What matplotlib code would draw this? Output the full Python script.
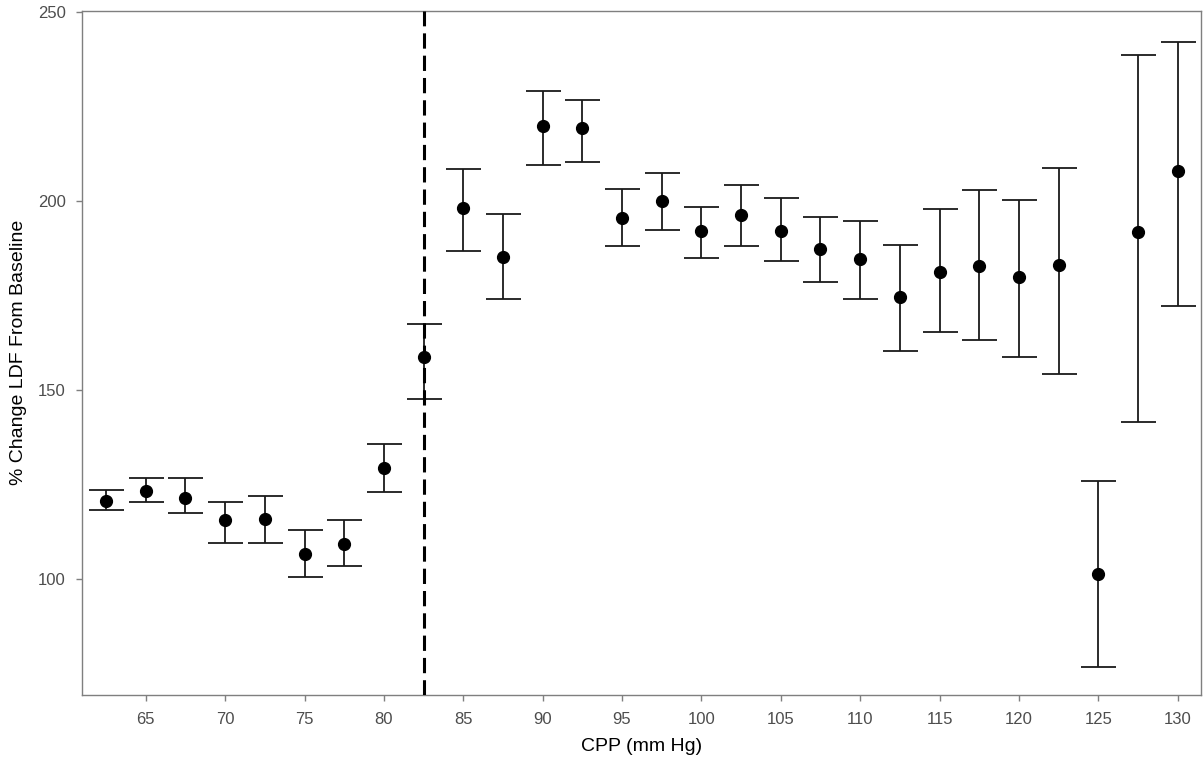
import matplotlib
matplotlib.use("Agg")
import matplotlib.pyplot as plt

cpp = [62.5, 65, 67.5, 70, 72.5, 75, 77.5, 80, 82.5, 85, 87.5, 90, 92.5, 95, 97.5,
       100, 102.5, 105, 107.5, 110, 112.5, 115, 117.5, 120, 122.5, 125, 127.5, 130]
mean = [120.8, 123.5, 121.6, 115.7, 116.0, 106.7, 109.3, 129.4, 158.7, 198.2, 185.4,
        219.9, 219.4, 195.6, 200.1, 192.2, 196.3, 192.2, 187.4, 184.7, 174.7, 181.3,
        182.9, 179.9, 183.2, 101.5, 191.9, 208.1]
upper = [123.6, 126.9, 126.9, 120.5, 122.0, 113.1, 115.7, 135.8, 167.5, 208.6, 196.7,
         229.2, 226.9, 203.4, 207.5, 198.5, 204.4, 200.8, 195.9, 194.8, 188.4, 198.1,
         203.0, 200.3, 208.9, 126.0, 238.8, 242.1]
lower = [118.3, 120.5, 117.5, 109.7, 109.7, 100.7, 103.4, 123.1, 147.8, 187.0, 174.2,
         209.5, 210.5, 188.1, 192.5, 185.1, 188.1, 184.3, 178.7, 174.2, 160.4, 165.4,
         163.4, 158.9, 154.4, 76.7, 141.7, 172.4]
threshold = 82.55
xticks = list(range(65, 131, 5))
yticks = [100, 150, 200, 250]

plt.rcParams['font.family'] = ['Liberation Sans', 'DejaVu Sans']

fig = plt.figure(figsize=(12.04, 7.64), dpi=100)
ax = fig.add_axes([82.3/1204, 1 - 695/764, (1201 - 82.3)/1204, (695 - 10.5)/764])

yerr = [[m - l for m, l in zip(mean, lower)], [u - m for u, m in zip(upper, mean)]]
ax.errorbar(cpp, mean, yerr=yerr, fmt='none', ecolor='#1a1a1a', elinewidth=1.3,
            capsize=12.6, capthick=1.3, zorder=2)
ax.plot(cpp, mean, 'o', color='black', markersize=8.5, zorder=3)
ax.axvline(threshold, color='black', linestyle=(0, (5, 2.3)), linewidth=2.2, zorder=4)

ax.set_xlim(61.0, 131.47)
ax.set_ylim(69.4, 250.5)
ax.set_xticks(xticks)
ax.set_yticks(yticks)
for s in ax.spines.values():
    s.set_color('#7f7f7f')
    s.set_linewidth(1.0)
ax.tick_params(axis='both', colors='#7f7f7f', length=4, width=1.0,
               labelcolor='#4d4d4d', labelsize=12)
ax.tick_params(axis='x', pad=8)
ax.tick_params(axis='y', pad=8)
ax.set_xlabel('CPP (mm Hg)', fontsize=14, color='black', labelpad=8)
ax.set_ylabel('% Change LDF From Baseline', fontsize=14, color='black', labelpad=8)

fig.savefig('out.png', dpi=100)
